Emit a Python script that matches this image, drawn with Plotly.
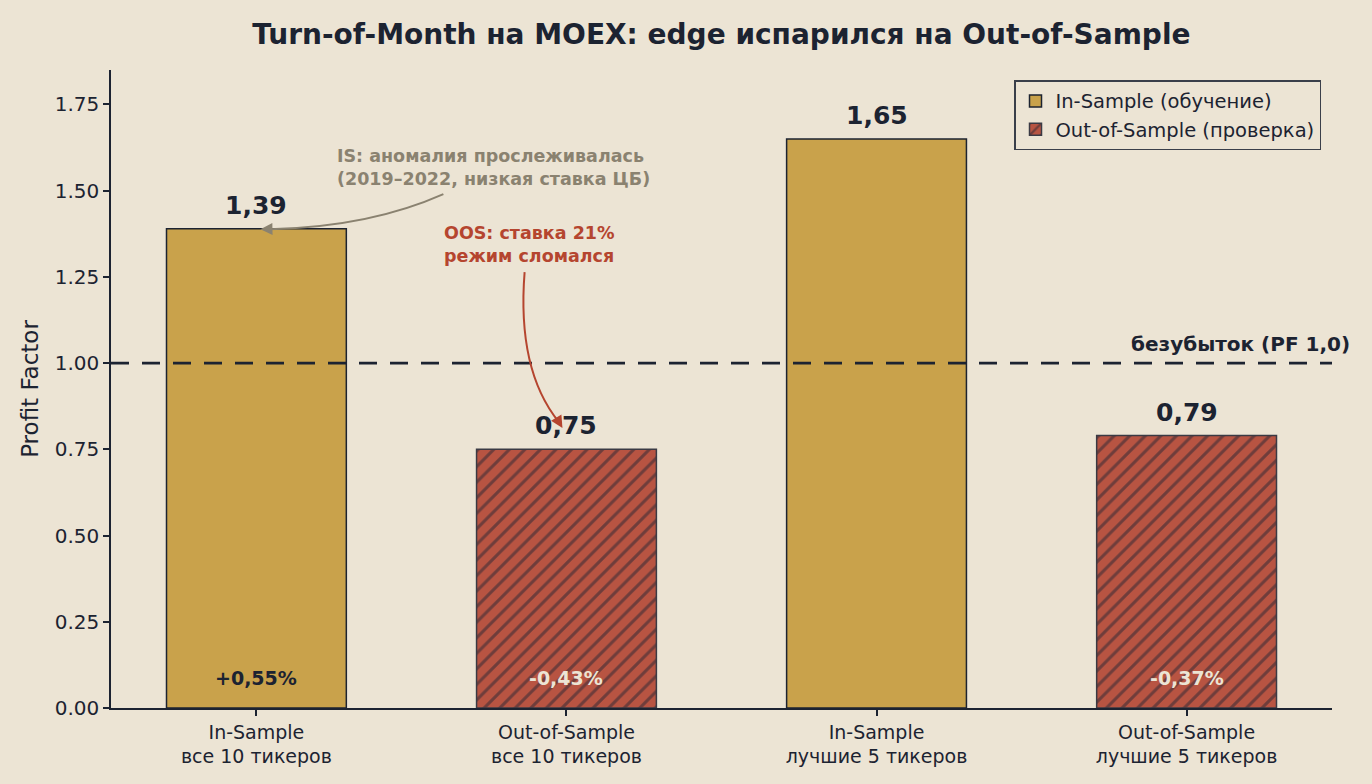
import plotly.graph_objects as go

categories = ["In-Sample<br>все 10 тикеров", "Out-of-Sample<br>все 10 тикеров",
              "In-Sample<br>лучшие 5 тикеров", "Out-of-Sample<br>лучшие 5 тикеров"]
profit_factor = [1.39, 0.75, 1.65, 0.79]
sample_type = ["IS", "OOS", "IS", "OOS"]
avg_return = ["+0,55%", "-0,43%", None, "-0,37%"]
breakeven = 1.0

BG = "#ECE4D4"
DARK = "#1C2331"
GOLD = "#C9A24B"
RED = "#B85442"
GRAY = "#8A8270"
ORED = "#B5452F"
FONT = "DejaVu Sans"

xs = list(range(len(categories)))
is_x = [x for x, s in zip(xs, sample_type) if s == "IS"]
is_y = [v for v, s in zip(profit_factor, sample_type) if s == "IS"]
oos_x = [x for x, s in zip(xs, sample_type) if s == "OOS"]
oos_y = [v for v, s in zip(profit_factor, sample_type) if s == "OOS"]

fig = go.Figure()
fig.add_trace(go.Bar(x=is_x, y=is_y, width=0.58, name="In-Sample (обучение)",
                     marker=dict(color=GOLD, line=dict(color=DARK, width=1.5))))
fig.add_trace(go.Bar(x=oos_x, y=oos_y, width=0.58, name="Out-of-Sample (проверка)",
                     marker=dict(color=RED, line=dict(color="#3a3a44", width=1.5),
                                 pattern=dict(shape="/", fgcolor="#262634", bgcolor=RED,
                                              size=11, solidity=0.28))))

fig.add_shape(type="line", xref="paper", yref="y", x0=0, x1=1, y0=breakeven, y1=breakeven,
              line=dict(color=DARK, width=2.8, dash="18px,13px"))
fig.add_annotation(xref="paper", yref="y", x=1.0166, y=breakeven, yshift=5, xanchor="right",
                   yanchor="bottom", text="<b>безубыток (PF 1,0)</b>", showarrow=False,
                   font=dict(size=20, color=DARK, family=FONT))

for x, v, s, r in zip(xs, profit_factor, sample_type, avg_return):
    fig.add_annotation(x=x, y=v, yshift=7, yanchor="bottom", showarrow=False,
                       text="<b>" + f"{v:.2f}".replace(".", ",") + "</b>",
                       font=dict(size=25, color=DARK, family=FONT))
    if r:
        fig.add_annotation(x=x, y=0.087, showarrow=False, text="<b>" + r + "</b>",
                           font=dict(size=19, color=DARK if s == "IS" else BG, family=FONT))

# IS annotation
fig.add_annotation(x=0.252, y=1.566, xanchor="left", yanchor="middle", showarrow=False, align="left",
                   text="<b>IS: аномалия прослеживалась<br>(2019–2022, низкая ставка ЦБ)</b>",
                   font=dict(size=17.5, color=GRAY, family=FONT))
fig.add_shape(type="path", xref="x", yref="y",
              path="M 0.603,1.490 Q 0.37,1.397 0.06,1.389",
              line=dict(color=GRAY, width=2))
fig.add_annotation(x=0.013, y=1.388, ax=0.07, ay=1.389, axref="x", ayref="y",
                   showarrow=True, arrowhead=2, arrowsize=1.2, arrowwidth=2, arrowcolor=GRAY, text="")

# OOS annotation
fig.add_annotation(x=0.6, y=1.345, xanchor="left", yanchor="middle", showarrow=False, align="left",
                   text="<b>OOS: ставка 21%<br>режим сломался</b>",
                   font=dict(size=17.5, color=ORED, family=FONT))
fig.add_shape(type="path", xref="x", yref="y",
              path="M 0.865,1.264 Q 0.84,0.98 0.975,0.83",
              line=dict(color=ORED, width=2))
fig.add_annotation(x=0.987, y=0.812, ax=0.965, ay=0.845, axref="x", ayref="y",
                   showarrow=True, arrowhead=2, arrowsize=1.2, arrowwidth=2, arrowcolor=ORED, text="")

fig.update_layout(
    width=1372, height=784,
    paper_bgcolor=BG, plot_bgcolor=BG,
    margin=dict(l=111, r=40, t=70, b=76),
    barmode="overlay",
    font=dict(family=FONT, color=DARK),
    title=dict(text="<b>Turn-of-Month на MOEX: edge испарился на Out-of-Sample</b>",
               x=0.5258, xanchor="center", y=0.957, yanchor="middle",
               font=dict(size=28, color=DARK, family=FONT)),
    legend=dict(x=0.991, y=0.984, xanchor="right", yanchor="top",
                bgcolor=BG, bordercolor="#3a3f4a", borderwidth=1.5,
                font=dict(size=19.5, color=DARK, family=FONT)),
    showlegend=True,
)
fig.update_xaxes(range=[-0.469, 3.469], tickvals=xs, ticktext=categories,
                 showgrid=False, zeroline=False, showline=True, linecolor=DARK, linewidth=1.5,
                 ticks="outside", ticklen=6, tickcolor=DARK, tickwidth=1.5,
                 tickfont=dict(size=19, color=DARK, family=FONT))
fig.update_yaxes(range=[0, 1.85], tickvals=[0, 0.25, 0.5, 0.75, 1.0, 1.25, 1.5, 1.75],
                 tickformat=".2f", showgrid=False, zeroline=False, showline=True,
                 linecolor=DARK, linewidth=1.5, ticks="outside", ticklen=6, tickcolor=DARK,
                 tickwidth=1.5, tickfont=dict(size=20, color=DARK, family=FONT),
                 title=dict(text="Profit Factor", font=dict(size=23, color=DARK, family=FONT),
                            standoff=10))

fig.write_html("out.html")
